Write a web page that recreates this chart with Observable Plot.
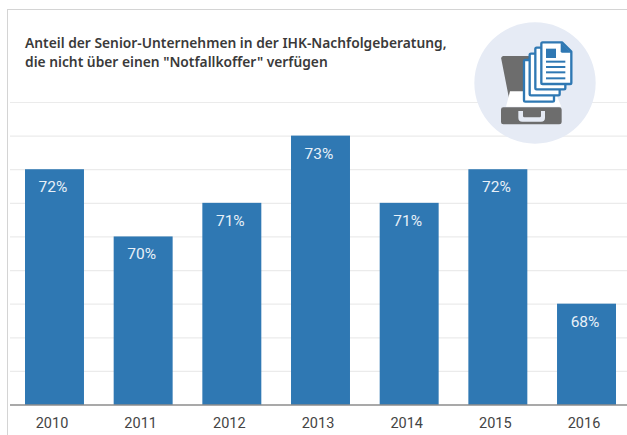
<!DOCTYPE html>
<html><head><meta charset="utf-8">
<script src="https://cdn.jsdelivr.net/npm/d3@7"></script>
<script src="https://cdn.jsdelivr.net/npm/@observablehq/plot@0.6"></script>
<style>
html,body{margin:0;padding:0;background:#fff;width:627px;height:435px;overflow:hidden}
#wrap{position:relative;width:627px;height:435px}
#wrap>svg{position:absolute;left:0;top:0}
#frame{position:absolute;left:7px;top:9px;right:-5px;bottom:-5px;border:1px solid #d4d4d4;border-width:1px 0 0 1px}
#title{position:absolute;left:25px;top:33px;font:600 13.8px/19px "Noto Sans",sans-serif;color:#3a3a3a;white-space:nowrap}
</style></head><body>
<div id="wrap"><div id="frame"></div></div>
<script>
const years = [2010, 2011, 2012, 2013, 2014, 2015, 2016];
const shares = [72, 70, 71, 73, 71, 72, 68];
const gridValues = [66, 67, 68, 69, 70, 71, 72, 73, 74];
const axisBase = 65;
const titleLines = ['Anteil der Senior-Unternehmen in der IHK-Nachfolgeberatung,', 'die nicht über einen "Notfallkoffer" verfügen'];
const table = years.map((year, i) => ({year, share: shares[i]}));

const plot = Plot.plot({
  width: 627, height: 435,
  marginLeft: 10, marginRight: 0, marginTop: 102, marginBottom: 30.5,
  style: {background: "transparent", fontFamily: "Roboto, sans-serif"},
  x: {type: "band", domain: years, range: [25, 616], paddingInner: 0.335, paddingOuter: 0, round: false, label: null},
  y: {domain: [axisBase, 74], label: null},
  marks: [
    Plot.ruleY(gridValues, {stroke: "#ebebeb", strokeWidth: 1.2}),
    Plot.barY(table, {x: "year", y1: () => axisBase, y2: "share", fill: "#2f78b3"}),
    Plot.ruleY([axisBase], {stroke: "#555", strokeWidth: 1.2}),
    Plot.text(table, {x: "year", y: "share", text: d => d.share + "%", dx: -2, dy: 17.5, fill: "#e8f0f8", fontSize: 15.5}),
    Plot.axisX({tickSize: 0, tickPadding: 13, dx: -3, tickFormat: d => String(d), fontSize: 14.5, color: "#444", anchor: "bottom", label: null}),
    Plot.axisY({ticks: [], label: null})
  ]
});
const wrap = document.getElementById("wrap");
wrap.appendChild(plot);

const title = document.createElement("div");
title.id = "title";
title.innerHTML = titleLines.join("<br>");
wrap.appendChild(title);

const ns = "http://www.w3.org/2000/svg";
const icon = document.createElementNS(ns, "svg");
icon.setAttribute("width", 187); icon.setAttribute("height", 160);
icon.setAttribute("viewBox", "0 0 561 480");
icon.style.cssText = "position:absolute;left:440px;top:0";
const sheet = (x, y) => `<path d="M${x+4} ${y}h58l28 28v93a4 4 0 0 1 -4 4h-82a4 4 0 0 1 -4 -4v-117a4 4 0 0 1 4 -4z" fill="#fff" stroke="#2f78b3" stroke-width="7" stroke-linejoin="round"/>`;
icon.innerHTML = `
<circle cx="285" cy="249" r="182" fill="#e6ebf5"/>
<path d="M189 168H300V300H208L184 178a8 8 0 0 1 5 -10z" fill="#6d6d6d"/>
<path d="M210 274H345L364 320H198z" fill="#fff"/>
<path d="M190 322H358a7 7 0 0 1 7 7V366a7 7 0 0 1 -7 7H190a7 7 0 0 1 -7 -7V329a7 7 0 0 1 7 -7z" fill="#6d6d6d"/>
<path d="M235 333h14v15a4 4 0 0 0 4 4h46a4 4 0 0 0 4 -4v-15h12v20a12 12 0 0 1 -12 12h-56a12 12 0 0 1 -12 -12z" fill="#e6ebf5"/>
${sheet(252, 180)}${sheet(269, 161)}${sheet(286, 143)}${sheet(304, 127)}
<path d="M362 127l32 31h-28a4 4 0 0 1 -4 -4z" fill="#2f78b3"/>
<rect x="318" y="146" width="30" height="28" fill="#2f78b3"/>
<g fill="#2f78b3"><rect x="318" y="182" width="58" height="6"/><rect x="318" y="198" width="58" height="6"/><rect x="318" y="214" width="58" height="6"/><rect x="318" y="232" width="58" height="6"/></g>`;
wrap.appendChild(icon);
</script>
</body></html>
